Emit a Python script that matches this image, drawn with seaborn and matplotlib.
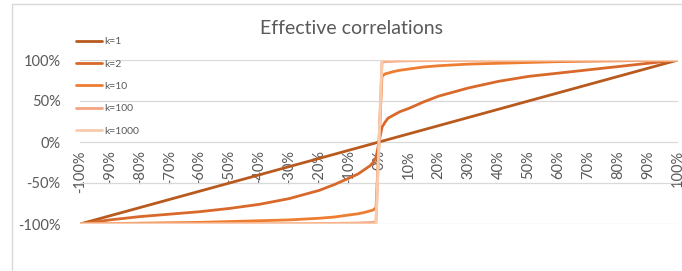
import matplotlib
matplotlib.use("Agg")
import matplotlib.pyplot as plt
from matplotlib.lines import Line2D
import seaborn as sns
import pandas as pd

x_pct = [-100, -90, -80, -70, -60, -50, -40, -30, -20, -15, -10, -7, -5, -3, -2, -1, 0,
         1, 2, 3, 5, 7, 10, 15, 20, 30, 40, 50, 60, 70, 80, 90, 100]

k1 = [-100, -90, -80, -70, -60, -50, -40, -30, -20, -15, -10, -7, -5, -3, -2, -1, 0,
      1, 2, 3, 5, 7, 10, 15, 20, 30, 40, 50, 60, 70, 80, 90, 100]
k2 = [-100, -95, -91, -88, -85, -81, -76, -69, -59, -52, -44, -39, -34, -29, -25, -19, 0,
      18, 24, 29, 33, 37, 41, 49, 56, 66, 74, 80, 84, 88, 92, 96, 100]
k10 = [-100, -99.5, -99, -98.5, -98, -97, -96, -95, -93, -91.5, -89, -87.5, -86, -84, -83, -80, 0,
       80, 83, 84, 86, 87.5, 89, 91.5, 93, 95, 96, 97, 98, 98.5, 99, 99.5, 100]
k100 = [-100, -100, -100, -100, -100, -99.5, -99.5, -99.5, -99.3, -99.2, -99, -98.8, -98.5, -98.2, -98, -97, 0,
        97, 98, 98.2, 98.5, 98.8, 99, 99.2, 99.3, 99.5, 99.5, 99.5, 100, 100, 100, 100, 100]
k1000 = [-100, -100, -100, -100, -100, -100, -100, -100, -100, -100, -100, -100, -100, -100, -100, -99.5, 0,
         99.5, 100, 100, 100, 100, 100, 100, 100, 100, 100, 100, 100, 100, 100, 100, 100]

labels = ["k=1", "k=2", "k=10", "k=100", "k=1000"]
colors = ["#B85A1E", "#D8692A", "#ED7D31", "#F4A582", "#F8CBAD"]

series = [k1, k2, k10, k100, k1000]
df = pd.concat(
    [pd.DataFrame({"x": x_pct, "y": s, "k": lab}) for s, lab in zip(series, labels)],
    ignore_index=True,
)

sns.set_theme(style="white")
plt.rcParams["font.family"] = ["Lato", "DejaVu Sans"]
grey = "#595959"

fig = plt.figure(figsize=(6.82, 2.71), dpi=100)
ax = fig.add_axes([80 / 682, 47 / 271, 598 / 682, 164 / 271])

sns.lineplot(data=df, x="x", y="y", hue="k", palette=colors, hue_order=labels,
             linewidth=2, ax=ax, legend=False, sort=False, estimator=None)

ax.set_xlim(-100, 100)
ax.set_ylim(-100, 100)
ax.set_yticks([-100, -50, 0, 50, 100])
ax.set_yticklabels([f"{v}%" for v in [-100, -50, 0, 50, 100]])
ax.set_xticks(range(-100, 101, 10))
ax.set_xticklabels([f"{v}%" for v in range(-100, 101, 10)])
ax.grid(axis="y", color="#D9D9D9", linewidth=0.9)
ax.set_axisbelow(True)
for side in ["top", "right", "left"]:
    ax.spines[side].set_visible(False)
ax.spines["bottom"].set_position(("data", 0))
ax.spines["bottom"].set_visible(False)
ax.tick_params(axis="x", length=0, pad=6, labelrotation=90, labelsize=10.5, colors=grey)
ax.tick_params(axis="y", length=0, pad=14, labelsize=10.5, colors=grey)
ax.set_xlabel("")
ax.set_ylabel("")

# chart frame (cropped at right and bottom)
fig.add_artist(Line2D([12 / 682, 1], [1 - 4 / 271, 1 - 4 / 271], color="#D9D9D9", lw=1))
fig.add_artist(Line2D([12 / 682, 12 / 682], [1 - 4 / 271, 0], color="#D9D9D9", lw=1))

fig.text(352 / 682, 1 - 29 / 271, "Effective correlations", ha="center", va="center",
         fontsize=14, color=grey)

handles = [Line2D([], [], color=c, lw=2) for c in colors]
fig.legend(handles, labels, loc="upper left", bbox_to_anchor=(76 / 682, 1 - 37 / 271),
           frameon=False, fontsize=7.5, handlelength=2.5, handletextpad=0.2,
           labelspacing=1.25, labelcolor=grey, borderaxespad=0, borderpad=0)

fig.savefig("out.png", dpi=100)
